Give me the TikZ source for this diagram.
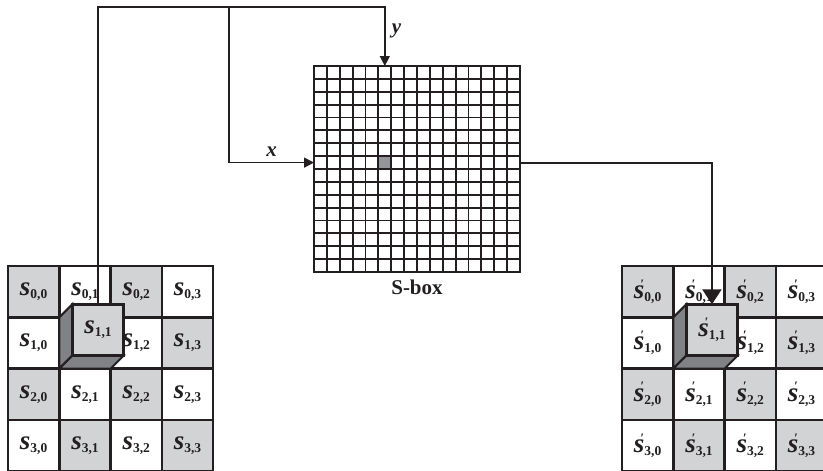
\documentclass[tikz,border=0pt]{standalone}
\usepackage{fontspec}
\setmainfont{Liberation Serif}
\usetikzlibrary{arrows.meta, positioning}

\definecolor{inkblack}{HTML}{231F20}
\definecolor{cellgray}{HTML}{D2D3D5}
\definecolor{sidegray}{HTML}{808285}
\definecolor{hitgray}{HTML}{939598}

\newcommand{\sname}[1]{{\fontsize{27}{27}\selectfont\bfseries\itshape s}\raisebox{-3pt}{\fontsize{13.5}{13.5}\selectfont\bfseries #1}}
\newcommand{\snamep}[1]{{\fontsize{27}{27}\selectfont\bfseries\itshape s\llap{\raisebox{10.5pt}{\fontsize{13}{13}\selectfont\char"2032}\hspace{0.5pt}}}\raisebox{-3pt}{\fontsize{13.5}{13.5}\selectfont\bfseries #1}}

\begin{document}
\begin{tikzpicture}[
    x=1pt, y=-1pt,
    node distance=4pt,
    cell/.style={rectangle, draw=inkblack, text=inkblack, line width=2.4pt, minimum size=51.3pt, inner sep=0pt, outer sep=0pt},
    cube/.style={cell, fill=cellgray},
    side/.style={fill=sidegray, draw=inkblack, line width=2pt, line join=miter},
    gridline/.style={draw=inkblack, line width=1.8pt},
    wire/.style={draw=inkblack, line width=1.4pt},
    inarrow/.style={wire, -{Triangle[length=10pt, width=10pt]}},
    outarrow/.style={draw=inkblack, line width=2.2pt, -{Triangle[length=15pt, width=19pt]}},
    varname/.style={text=inkblack, font=\fontsize{21}{21}\selectfont\bfseries\itshape}
]
\useasboundingbox (0,0) rectangle (823,471);
\clip (0,0) rectangle (823,471);

% input state
\foreach \r in {0,...,3}
  \foreach \c in {0,...,3} {
    \pgfmathtruncatemacro\odd{mod(\r+\c,2)}
    \ifnum\odd=0 \def\cellcol{cellgray}\else\def\cellcol{white}\fi
    \def\lab{\sname{\r,\c}}
    \ifnum\r\c=11 \def\lab{}\fi
    \node (L\r\c) [cell, fill=\cellcol] at (33.65+51.3*\c, 291.65+51.3*\r) {\lab};
  }
\filldraw[side] (L11.north west) -- ([shift={(13,-13)}]L11.north west) -- ([shift={(13,-13)}]L11.south west) -- (L11.south west) -- cycle;
\filldraw[side] (L11.south west) -- ([shift={(13,-13)}]L11.south west) -- ([shift={(13,-13)}]L11.south east) -- (L11.south east) -- cycle;
\node (cubeL) [cube, xshift=13pt, yshift=13pt] at (L11) {\sname{1,1}};

% output state
\foreach \r in {0,...,3}
  \foreach \c in {0,...,3} {
    \pgfmathtruncatemacro\odd{mod(\r+\c,2)}
    \ifnum\odd=0 \def\cellcol{cellgray}\else\def\cellcol{white}\fi
    \def\lab{\snamep{\r,\c}}
    \ifnum\r\c=11 \def\lab{}\fi
    \node (R\r\c) [cell, fill=\cellcol] at (647.65+51.3*\c, 291.65+51.3*\r) {\lab};
  }
\filldraw[side] (R11.north west) -- ([shift={(13,-13)}]R11.north west) -- ([shift={(13,-13)}]R11.south west) -- (R11.south west) -- cycle;
\filldraw[side] (R11.south west) -- ([shift={(13,-13)}]R11.south west) -- ([shift={(13,-13)}]R11.south east) -- (R11.south east) -- cycle;
\node (cubeR) [cube, xshift=13pt, yshift=13pt] at (R11) {\snamep{1,1}};

% S-box 16x16
\node (sbox) [draw=inkblack, line width=2.2pt, minimum size=206pt, inner sep=0pt, outer sep=0pt] at (417,169) {};
\foreach \i in {1,...,15} {
  \draw[gridline] ([xshift=12.875*\i pt]sbox.north west) -- ([xshift=12.875*\i pt]sbox.south west);
  \draw[gridline] ([yshift=-12.875*\i pt]sbox.north west) -- ([yshift=-12.875*\i pt]sbox.north east);
}
\node (hit) [fill=hitgray, draw=inkblack, line width=1.8pt, minimum size=12.875pt, inner sep=0pt, outer sep=0pt] at ([xshift=70.8pt, yshift=-96.6pt]sbox.north west) {};
\node (sboxname) [below=of sbox, text=inkblack, font=\fontsize{21}{21}\selectfont\bfseries] {S-box};

% connectors
\coordinate (top) at (0,7);
\coordinate (split) at (229,7);
\draw[inarrow] (cubeL.north) |- (hit |- top) -- node[pos=0.4, right=3pt, varname] {y} (hit |- sbox.north);
\draw[inarrow] (split) |- node[pos=0.75, above=2pt, varname] {x} (hit -| sbox.west);
\draw[outarrow] (hit -| sbox.east) -| (cubeR.north);
\end{tikzpicture}
\end{document}
